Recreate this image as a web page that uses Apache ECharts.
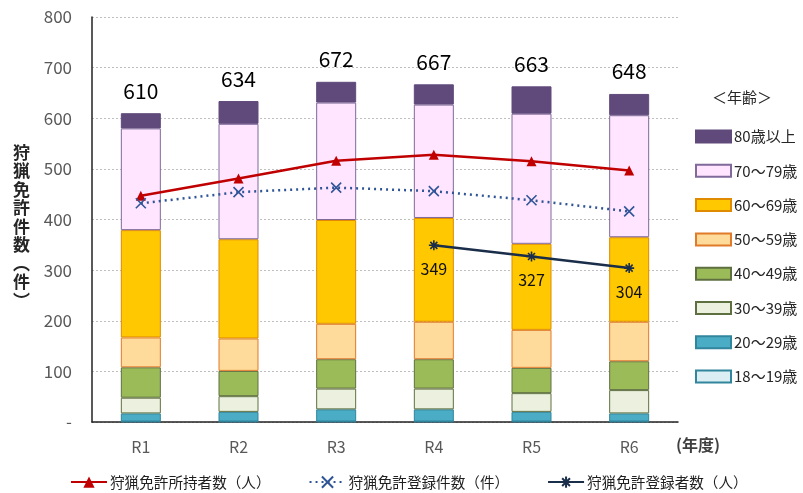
<!DOCTYPE html>
<html>
<head>
<meta charset="utf-8">
<script src="https://cdn.jsdelivr.net/npm/echarts@6/dist/echarts.min.js"></script>
<style>
  html, body { margin: 0; padding: 0; background: #fff; }
  #chart { width: 803px; height: 493px; }
</style>
</head>
<body>
<div id="chart"></div>
<script>
// 年度
const years = ['R1', 'R2', 'R3', 'R4', 'R5', 'R6'];

// 年齢別の狩猟免許件数(件)
const age18_19 = [1, 1, 1, 1, 1, 1];
const age20_29 = [16, 19, 24, 24, 19, 16];
const age30_39 = [31, 31, 41, 41, 37, 46];
const age40_49 = [60, 50, 58, 58, 50, 57];
const age50_59 = [59, 64, 70, 74, 75, 78];
const age60_69 = [212, 196, 205, 205, 170, 167];
const age70_79 = [201, 228, 232, 224, 257, 241];
const age80plus = [30, 45, 41, 40, 54, 42];

// 折れ線
const holders = [447, 481, 516, 528, 515, 497];        // 狩猟免許所持者数（人）
const registrations = [432, 454, 463, 456, 438, 416];  // 狩猟免許登録件数（件）
const registrants = [null, null, null, 349, 327, 304]; // 狩猟免許登録者数（人）

const yTicks = [0, 100, 200, 300, 400, 500, 600, 700, 800];

const ageSeries = [
  { name: '18～19歳', data: age18_19, color: '#DAEEF3', border: '#31859C' },
  { name: '20～29歳', data: age20_29, color: '#4BACC6', border: '#31859C' },
  { name: '30～39歳', data: age30_39, color: '#EBF1DE', border: '#5F7040' },
  { name: '40～49歳', data: age40_49, color: '#9BBB59', border: '#5F7040' },
  { name: '50～59歳', data: age50_59, color: '#FFDB9B', border: '#E07B2A' },
  { name: '60～69歳', data: age60_69, color: '#FFC800', border: '#E08A00' },
  { name: '70～79歳', data: age70_79, color: '#FFE5FF', border: '#7F6A9A' },
  { name: '80歳以上', data: age80plus, color: '#604A7B', border: '#604A7B' }
];

const totals = years.map((_, i) => ageSeries.reduce((s, a) => s + a.data[i], 0));

const lineNames = ['狩猟免許所持者数（人）', '狩猟免許登録件数（件）', '狩猟免許登録者数（人）'];

const jp = "'Noto Sans CJK JP', 'Noto Sans', sans-serif";

const crossSymbol = 'path://M0,0L10,10M10,0L0,10';
const starSymbol = 'path://M5,0L5,10M0,5L10,5M1.5,1.5L8.5,8.5M8.5,1.5L1.5,8.5';

const chart = echarts.init(document.getElementById('chart'));

const barSeries = ageSeries.map((a, idx) => ({
  name: a.name,
  type: 'bar',
  stack: 'age',
  barWidth: 40,
  data: a.data,
  itemStyle: { color: a.color, borderColor: a.border, borderWidth: 1 },
  label: idx === ageSeries.length - 1 ? {
    show: true,
    position: 'top',
    distance: 12,
    fontSize: 21,
    color: '#000',
    fontFamily: jp,
    formatter: p => totals[p.dataIndex]
  } : { show: false },
  z: 2
}));

chart.setOption({
  animation: false,
  backgroundColor: '#fff',
  grid: { left: 92, right: 125, top: 17, bottom: 71, containLabel: false },
  xAxis: {
    type: 'category',
    data: years,
    axisLine: { lineStyle: { color: '#222', width: 1.5 } },
    axisTick: { show: false },
    axisLabel: { color: '#595959', fontSize: 16, margin: 17, fontFamily: jp }
  },
  yAxis: {
    type: 'value',
    min: yTicks[0],
    max: yTicks[yTicks.length - 1],
    interval: 100,
    axisLine: { show: true, lineStyle: { color: '#222', width: 1.5 } },
    axisTick: { show: false },
    axisLabel: {
      color: '#595959', fontSize: 17, margin: 20, fontFamily: jp,
      formatter: v => (v === 0 ? '-' : String(v))
    },
    splitLine: { lineStyle: { color: '#BFBFBF', type: [2, 2], width: 1 } }
  },
  legend: [
    {
      orient: 'vertical',
      left: 690,
      top: 124,
      itemWidth: 35,
      itemHeight: 12,
      itemGap: 19.3,
      icon: 'rect',
      textStyle: { fontSize: 15, color: '#262626', fontFamily: jp, padding: [0, 0, 0, -2] },
      data: ageSeries.map(a => a.name).reverse()
    },
    {
      orient: 'horizontal',
      left: 65,
      top: 469,
      itemWidth: 36,
      itemHeight: 14,
      itemGap: 38,
      textStyle: { fontSize: 14.6, color: '#1f1f1f', fontFamily: jp, padding: [0, 0, 0, -2] },
      data: lineNames
    }
  ],
  graphic: [
    {
      type: 'text',
      left: 712, top: 90,
      style: { text: '＜年齢＞', font: "15px 'Noto Sans CJK JP'", fill: '#262626' }
    },
    {
      type: 'text',
      left: 676, top: 437,
      style: { text: '(年度)', font: "bold 16px 'Noto Sans CJK JP'", fill: '#404040' }
    },
    {
      type: 'text',
      left: 13, top: 143,
      style: {
        text: '狩\n猟\n免\n許\n件\n数\n︵\n件\n︶',
        font: "bold 17px 'Noto Sans CJK JP'",
        fill: '#262626',
        lineHeight: 18.5
      }
    }
  ],
  series: barSeries.concat([
    {
      name: lineNames[0],
      type: 'line',
      data: holders,
      symbol: 'triangle',
      symbolSize: 10,
      lineStyle: { color: '#C00000', width: 2.5 },
      itemStyle: { color: '#C00000' },
      z: 5
    },
    {
      name: lineNames[1],
      type: 'line',
      data: registrations,
      symbol: crossSymbol,
      symbolSize: 10,
      lineStyle: { color: '#2F5597', width: 2.5, type: [2, 4] },
      itemStyle: { color: 'none', borderColor: '#2F5597', borderWidth: 1.6 },
      z: 5
    },
    {
      name: lineNames[2],
      type: 'line',
      data: registrants,
      symbol: starSymbol,
      symbolSize: 10,
      lineStyle: { color: '#1A2E4A', width: 2.5 },
      itemStyle: { color: 'none', borderColor: '#1A2E4A', borderWidth: 1.6 },
      label: {
        show: true, position: 'bottom', distance: 8,
        fontSize: 16, color: '#111', fontFamily: jp
      },
      z: 6
    }
  ])
});
</script>
</body>
</html>
